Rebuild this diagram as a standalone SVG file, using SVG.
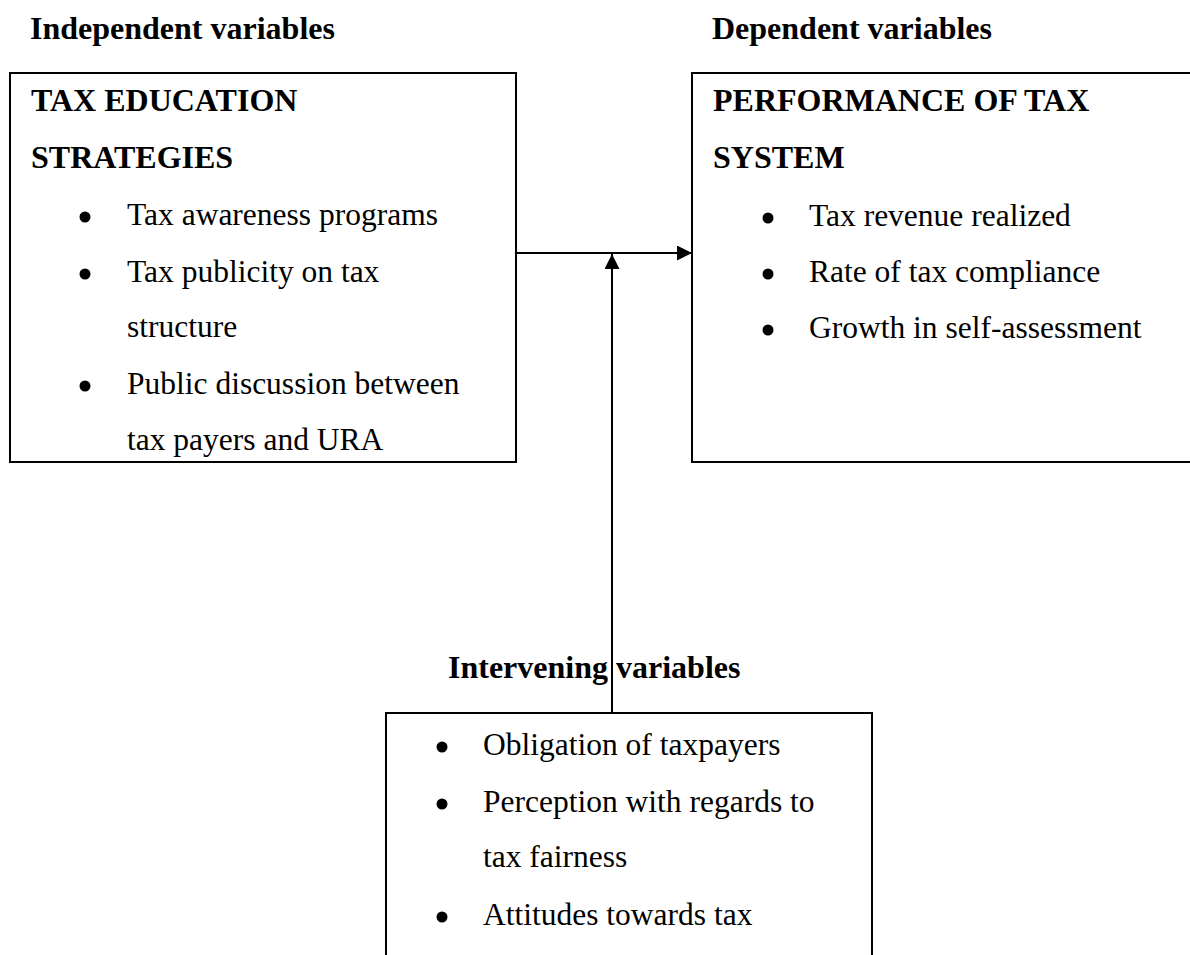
<svg xmlns="http://www.w3.org/2000/svg" width="1190" height="955" viewBox="0 0 1190 955">
<style>
.box{fill:#fff;stroke:#000;stroke-width:2}
.h{font-family:"Liberation Serif","Times New Roman",serif;font-weight:bold;font-size:32px;fill:#000}
.t{font-family:"Liberation Serif","Times New Roman",serif;font-size:31.5px;fill:#000}
.b{fill:#000}
.c{stroke:#000;stroke-width:2;fill:none}
</style>
<defs>
<marker id="arrh" viewBox="0 0 10 10" refX="10" refY="5" markerWidth="16" markerHeight="15" markerUnits="userSpaceOnUse" orient="auto">
<path d="M0,0 L10,5 L0,10 z" fill="#000"/>
</marker>
</defs>
<rect width="1190" height="955" fill="#fff"/>
<text class="h" x="30" y="39">Independent variables</text>
<text class="h" x="712" y="39">Dependent variables</text>
<g id="independent">
<rect class="box" x="10" y="73" width="506" height="389"/>
<text class="h" x="31" y="111">TAX EDUCATION</text>
<text class="h" x="31" y="168">STRATEGIES</text>
<circle class="b" cx="85" cy="217" r="5.5"/>
<text class="t" x="127" y="225">Tax awareness programs</text>
<circle class="b" cx="85" cy="274" r="5.5"/>
<text class="t" x="127" y="282">Tax publicity on tax</text>
<text class="t" x="127" y="337">structure</text>
<circle class="b" cx="85" cy="386" r="5.5"/>
<text class="t" x="127" y="394">Public discussion between</text>
<text class="t" x="127" y="450">tax payers and URA</text>
</g>
<g id="dependent">
<rect class="box" x="692" y="73" width="520" height="389"/>
<text class="h" x="713" y="111">PERFORMANCE OF TAX</text>
<text class="h" x="713" y="168">SYSTEM</text>
<circle class="b" cx="768" cy="218" r="5.5"/>
<text class="t" x="809" y="226">Tax revenue realized</text>
<circle class="b" cx="768" cy="274" r="5.5"/>
<text class="t" x="809" y="282">Rate of tax compliance</text>
<circle class="b" cx="768" cy="330" r="5.5"/>
<text class="t" x="809" y="338">Growth in self-assessment</text>
</g>
<g id="intervening">
<text class="h" x="448" y="678">Intervening variables</text>
<rect class="box" x="386" y="713" width="486" height="260"/>
<circle class="b" cx="442" cy="747" r="5.5"/>
<text class="t" x="483" y="755">Obligation of taxpayers</text>
<circle class="b" cx="442" cy="804" r="5.5"/>
<text class="t" x="483" y="812">Perception with regards to</text>
<text class="t" x="483" y="867">tax fairness</text>
<circle class="b" cx="442" cy="917" r="5.5"/>
<text class="t" x="483" y="925">Attitudes towards tax</text>
</g>
<g id="connectors">
<line class="c" x1="516" y1="253" x2="692" y2="253" marker-end="url(#arrh)"/>
<line class="c" x1="612" y1="713" x2="612" y2="254" marker-end="url(#arrh)"/>
</g>
</svg>
